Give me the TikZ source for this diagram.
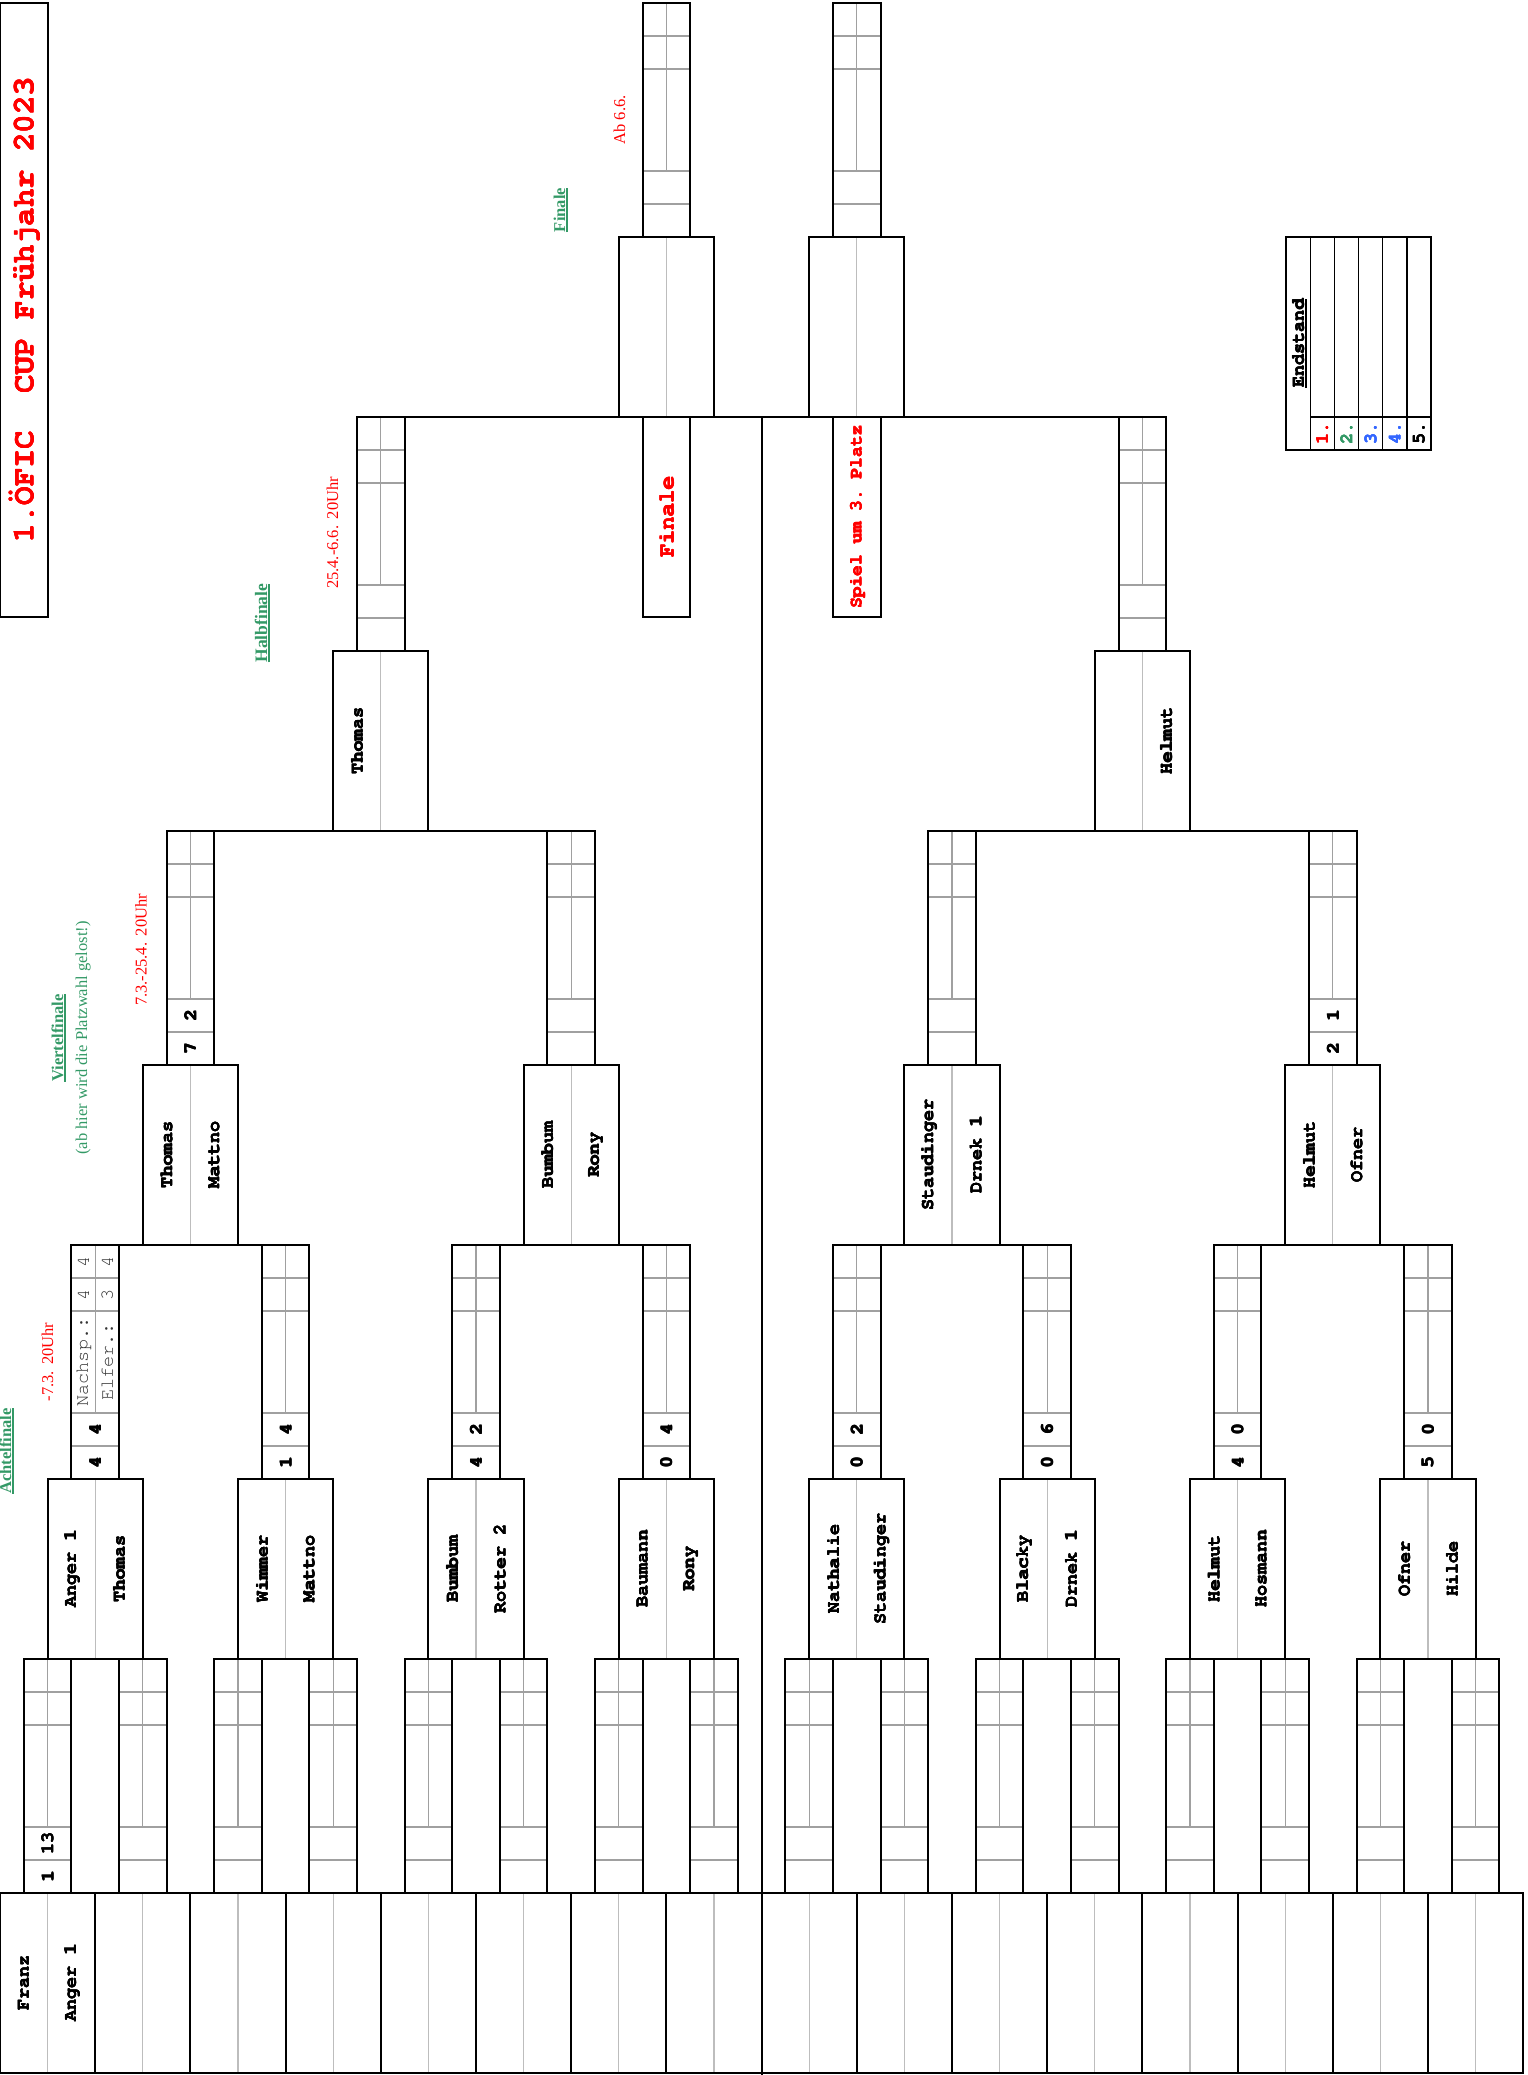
\documentclass[tikz,border=0pt]{standalone}
\usepackage[T1,TU]{fontenc}
\usepackage{fontspec}
\setmainfont{Liberation Serif}
\frenchspacing
\newcommand{\courB}{\fontencoding{T1}\fontfamily{pcr}\fontseries{b}\fontshape{n}\selectfont}
\newcommand{\courR}{\fontencoding{T1}\fontfamily{pcr}\fontseries{m}\fontshape{n}\selectfont}
\newcommand{\fb}[1]{\leavevmode\rlap{#1}\rlap{\kern0.3pt#1}\rlap{\raisebox{0.3pt}{#1}}\rlap{\kern0.3pt\raisebox{0.3pt}{#1}}\phantom{#1}}
\usetikzlibrary{calc}
\definecolor{xlgreen}{HTML}{339966}
\definecolor{xlblue}{HTML}{3366FF}
\definecolor{xlred}{HTML}{FF0000}
\definecolor{grayA}{HTML}{A0A0A0}
\definecolor{grayB}{HTML}{BDBDBD}
\def\W{95.2}
\newcommand{\myul}[1]{\setbox0\hbox{#1}\rlap{\rule[-2.6pt]{\wd0}{1.3pt}}\box0}
\newcommand{\NameBox}[5]{%
  \node[namebx] (#1) at ({#2},{#3+90}) {};
  \node[nm] (#1-a) at ([xshift=-23.8pt]#1.center) {\fb{#4}};
  \node[nm] (#1-b) at ([xshift=23.8pt]#1.center) {\fb{#5}};
}
\newcommand{\ScoreBox}[5]{%
  \node[scorebx] (#1) at ({#2},{#3+117}) {};
  \node[sc] (#1-a) at ([yshift=-217.5pt]#1.north) {\fb{#4}};
  \node[sc] (#1-b) at ([yshift=-184.5pt]#1.north) {\fb{#5}};
}
\begin{document}
\begin{tikzpicture}[x=1pt,y=-1pt,
  frame/.style={draw=black, line width=2pt, inner sep=0pt, outer sep=0pt},
  conn/.style={draw=black, line width=2pt},
  inline/.style={draw=grayA, line width=1.3pt},
  midline/.style={draw=grayB, line width=1.3pt},
  namebx/.style={frame, minimum width=95.2pt, minimum height=180pt,
    path picture={\draw[midline] (path picture bounding box.north) -- (path picture bounding box.south);}},
  scorebx/.style={frame, minimum width=47.6pt, minimum height=234pt,
    path picture={
      \foreach \d in {33,66,168,201}{
        \draw[inline] ([yshift=-\d pt]path picture bounding box.north west) -- ([yshift=-\d pt]path picture bounding box.north east);}
      \draw[inline] (path picture bounding box.north) -- ([yshift=-168pt]path picture bounding box.north);}},
  nm/.style={rotate=90, inner sep=0pt, font=\courB\fontsize{18.5}{20}\selectfont, text=black},
  sc/.style={rotate=90, inner sep=0pt, font=\courB\fontsize{18.5}{20}\selectfont, text=black},
  ex/.style={rotate=90, inner sep=0pt, font=\courR\fontsize{18.5}{20}\selectfont, text=black!80},
  lbl/.style={rotate=90, anchor=base, inner sep=0pt, font=\fontsize{16.5}{18}\selectfont},
  glbl/.style={lbl, text=xlgreen, font=\bfseries\fontsize{16.5}{18}\selectfont},
  rlbl/.style={lbl, text=xlred},
  ]
\useasboundingbox (0,0) rectangle (1527,2075);

% ---------- title ----------
\node[frame, minimum width=47.6pt, minimum height=614pt] (title) at (23.8,310) {};
\node[rotate=90, text=xlred, font=\courB\fontsize{31}{33}\selectfont] (titletext) at (title.center) {\fb{1.ÖFIC\ \ CUP Frühjahr 2023}};

% ---------- level 0 ----------
\NameBox{b0}{0.5*\W}{1893}{Franz}{Anger 1}
\ScoreBox{s00}{0.5*\W}{1659}{1}{13}
\foreach \i in {1,...,15}{
  \NameBox{b\i}{(\i+0.5)*\W}{1893}{}{}
  \ScoreBox{s0\i}{(\i+0.5)*\W}{1659}{}{}
}
\foreach \a/\b in {0/1,2/3,4/5,6/7,8/9,10/11,12/13,14/15}{
  \draw[conn] (s0\a.north west) -- (s0\b.north east);
}

% ---------- level 1 (Achtelfinale) ----------
\NameBox{n10}{1*\W}{1479}{Anger 1}{Thomas}
\NameBox{n11}{3*\W}{1479}{Wimmer}{Mattno}
\NameBox{n12}{5*\W}{1479}{Bumbum}{Rotter 2}
\NameBox{n13}{7*\W}{1479}{Baumann}{Rony}
\NameBox{n14}{9*\W}{1479}{Nathalie}{Staudinger}
\NameBox{n15}{11*\W}{1479}{Blacky}{Drnek 1}
\NameBox{n16}{13*\W}{1479}{Helmut}{Hosmann}
\NameBox{n17}{15*\W}{1479}{Ofner}{Hilde}
\ScoreBox{s10}{1*\W}{1245}{4}{4}
\ScoreBox{s11}{3*\W}{1245}{1}{4}
\ScoreBox{s12}{5*\W}{1245}{4}{2}
\ScoreBox{s13}{7*\W}{1245}{0}{4}
\ScoreBox{s14}{9*\W}{1245}{0}{2}
\ScoreBox{s15}{11*\W}{1245}{0}{6}
\ScoreBox{s16}{13*\W}{1245}{4}{0}
\ScoreBox{s17}{15*\W}{1245}{5}{0}
\node[ex] (nx1) at ([xshift=-11.9pt,yshift=-117pt]s10.north) {Nachsp.:};
\node[ex] (nx2) at ([xshift=-11.9pt,yshift=-49.5pt]s10.north) {4};
\node[ex] (nx3) at ([xshift=-11.9pt,yshift=-16.5pt]s10.north) {4};
\node[ex] (ef1) at ([xshift=11.9pt,yshift=-117pt]s10.north) {Elfer.:};
\node[ex] (ef2) at ([xshift=11.9pt,yshift=-49.5pt]s10.north) {3};
\node[ex] (ef3) at ([xshift=11.9pt,yshift=-16.5pt]s10.north) {4};
\foreach \a/\b in {0/1,2/3,4/5,6/7}{
  \draw[conn] (s1\a.north west) -- (s1\b.north east);
}

% ---------- level 2 (Viertelfinale) ----------
\NameBox{n20}{2*\W}{1065}{Thomas}{Mattno}
\NameBox{n21}{6*\W}{1065}{Bumbum}{Rony}
\NameBox{n22}{10*\W}{1065}{Staudinger}{Drnek 1}
\NameBox{n23}{14*\W}{1065}{Helmut}{Ofner}
\ScoreBox{s20}{2*\W}{831}{7}{2}
\ScoreBox{s21}{6*\W}{831}{}{}
\ScoreBox{s22}{10*\W}{831}{}{}
\ScoreBox{s23}{14*\W}{831}{2}{1}
\draw[conn] (s20.north west) -- (s21.north east);
\draw[conn] (s22.north west) -- (s23.north east);

% ---------- level 3 (Halbfinale) ----------
\NameBox{n30}{4*\W}{651}{Thomas}{}
\NameBox{n31}{12*\W}{651}{}{Helmut}
\ScoreBox{s30}{4*\W}{417}{}{}
\ScoreBox{s31}{12*\W}{417}{}{}
\draw[conn] (s30.north west) -- (s31.north east);

% ---------- finals ----------
\NameBox{n40}{7*\W}{237}{}{}
\NameBox{n41}{9*\W}{237}{}{}
\ScoreBox{s40}{7*\W}{3}{}{}
\ScoreBox{s41}{9*\W}{3}{}{}
\node[frame, minimum width=47.6pt, minimum height=200pt] (fin) at ({7*\W},517) {};
\node[rotate=90, text=xlred, font=\courB\fontsize{22.5}{24}\selectfont] (fintext) at (fin.center) {\fb{Finale}};
\node[frame, minimum width=47.6pt, minimum height=200pt] (third) at ({9*\W},517) {};
\node[rotate=90, text=xlred, font=\courB\fontsize{18}{20}\selectfont] (thirdtext) at (third.center) {\fb{Spiel um 3. Platz}};
\coordinate (ctop) at ({8*\W},417);
\coordinate (cbot) at ({8*\W},2075);
\draw[conn] (ctop) -- (cbot);

% ---------- Endstand ----------
\node[frame, minimum width=145pt, minimum height=213pt] (es) at (1358.5,343.5) {};
\foreach \j in {1,...,5}{
  \draw[black, line width=1.3pt] ([xshift={\j*24.2pt}]es.north west) -- ([xshift={\j*24.2pt}]es.south west);
}
\draw[black, line width=1.3pt] ([xshift=24.2pt,yshift=33pt]es.south west) -- ([yshift=33pt]es.south east);
\node[rotate=90, anchor=base, inner sep=0pt, font=\courB\fontsize{18.5}{20}\selectfont] (estext) at (1304,343.5) {\myul{\fb{Endstand}}};
\foreach \j/\t/\c in {1/1./xlred,2/2./xlgreen,3/3./xlblue,4/4./xlblue,5/5./black}{
  \node[rotate=90, inner sep=0pt, text=\c, font=\courB\fontsize{18.5}{20}\selectfont] (pl\j) at ({1286+24.2*(\j+0.5)},433.5) {\fb{\t}};
}

% ---------- round labels ----------
\node[glbl] (lab8) at (11,1451) {\myul{Achtelfinale}};
\node[rlbl] (dat8) at (53,1362) {-7.3.\hspace{6.5pt}20Uhr};
\node[glbl] (lab4) at (63,1038) {\myul{Viertelfinale}};
\node[lbl, text=xlgreen] (lab4b) at (87,1038) {(ab hier wird die Platzwahl gelost!)};
\node[rlbl] (dat4) at (146.5,950) {7.3.-25.4.\hspace{6.5pt}20Uhr};
\node[glbl, font=\bfseries\fontsize{17.5}{19}\selectfont] (lab2) at (267,623) {\myul{Halbfinale}};
\node[rlbl] (dat2) at (338,533) {25.4.-6.6.\hspace{6.5pt}20Uhr};
\node[glbl] (lab1) at (565,210) {\myul{Finale}};
\node[rlbl] (dat1) at (625,120) {Ab 6.6.};
\end{tikzpicture}
\end{document}
